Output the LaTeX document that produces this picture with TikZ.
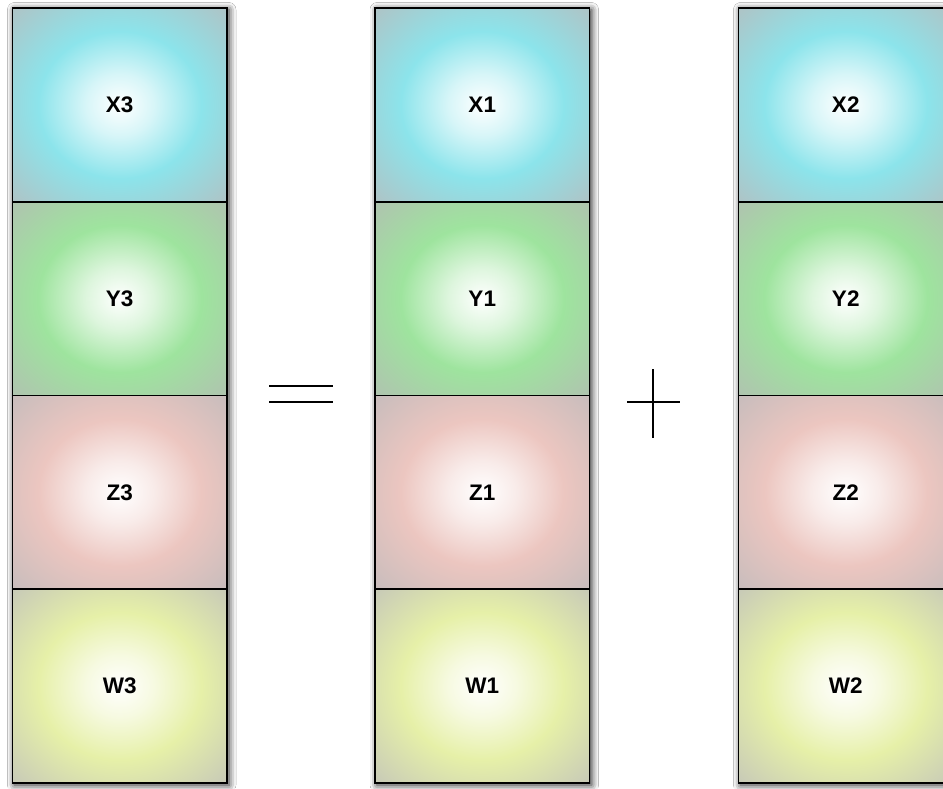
\documentclass[tikz,border=0pt]{standalone}
\usepackage{fontspec}
\setmainfont{Liberation Sans}
\usetikzlibrary{shadows.blur}

% cell colours: bright ring and greyish rim
\definecolor{cyanring}{RGB}{140,228,235}
\definecolor{cyanrim}{RGB}{176,194,196}
\definecolor{greenring}{RGB}{158,228,158}
\definecolor{greenrim}{RGB}{176,194,176}
\definecolor{redring}{RGB}{236,198,192}
\definecolor{redrim}{RGB}{198,188,188}
\definecolor{yellowring}{RGB}{230,240,168}
\definecolor{yellowrim}{RGB}{198,200,184}

% radial fills: white centre, coloured ring, grey corners
\pgfdeclareradialshading{ballX}{\pgfpointorigin}{color(0bp)=(white); color(8bp)=(cyanring!35); color(19bp)=(cyanring); color(36bp)=(cyanrim); color(50bp)=(cyanrim)}
\pgfdeclareradialshading{ballY}{\pgfpointorigin}{color(0bp)=(white); color(8bp)=(greenring!35); color(19bp)=(greenring); color(36bp)=(greenrim); color(50bp)=(greenrim)}
\pgfdeclareradialshading{ballZ}{\pgfpointorigin}{color(0bp)=(white); color(8bp)=(redring!35); color(19bp)=(redring); color(36bp)=(redrim); color(50bp)=(redrim)}
\pgfdeclareradialshading{ballW}{\pgfpointorigin}{color(0bp)=(white); color(8bp)=(yellowring!35); color(19bp)=(yellowring); color(36bp)=(yellowrim); color(50bp)=(yellowrim)}

\tikzset{
  cell/.style={draw=black, line width=1.6pt, rectangle, inner sep=0pt,
    minimum width=214.5pt, minimum height=193.75pt,
    font=\fontsize{22.5}{26}\selectfont\bfseries, text=black},
  cellX/.style={cell, shading=ballX},
  cellY/.style={cell, shading=ballY},
  cellZ/.style={cell, shading=ballZ},
  cellW/.style={cell, shading=ballW},
  colshadow/.style={fill=white, blur shadow={shadow xshift=2pt, shadow yshift=-1.5pt,
    shadow blur radius=7pt, shadow opacity=90}},
  opline/.style={draw=black, line width=1.5pt}
}

\begin{document}
\begin{tikzpicture}[x=1pt, y=-1pt]
  \clip (0,0) rectangle (943,788);
  \fill[white] (0,0) rectangle (943,788);

  % column backs carrying the drop shadows
  \path[colshadow] (12.5,8) rectangle (227,783.5);
  \path[colshadow] (375,8) rectangle (589.5,783.5);
  \path[colshadow] (738.5,8) rectangle (953,783.5);

  % left column
  \node[cellX] (x3) at (119.75,104.9) {X3};
  \node[cellY] (y3) at (119.75,298.6) {Y3};
  \node[cellZ] (z3) at (119.75,492.4) {Z3};
  \node[cellW] (w3) at (119.75,686.1) {W3};

  % middle column
  \node[cellX] (x1) at (482.25,104.9) {X1};
  \node[cellY] (y1) at (482.25,298.6) {Y1};
  \node[cellZ] (z1) at (482.25,492.4) {Z1};
  \node[cellW] (w1) at (482.25,686.1) {W1};

  % right column
  \node[cellX] (x2) at (845.75,104.9) {X2};
  \node[cellY] (y2) at (845.75,298.6) {Y2};
  \node[cellZ] (z2) at (845.75,492.4) {Z2};
  \node[cellW] (w2) at (845.75,686.1) {W2};

  % equals sign
  \draw[opline] (269,386) -- (333,386);
  \draw[opline] (269,402) -- (333,402);

  % plus sign
  \draw[opline] (627,402) -- (680,402);
  \draw[opline] (653,369) -- (653,438);
\end{tikzpicture}
\end{document}
